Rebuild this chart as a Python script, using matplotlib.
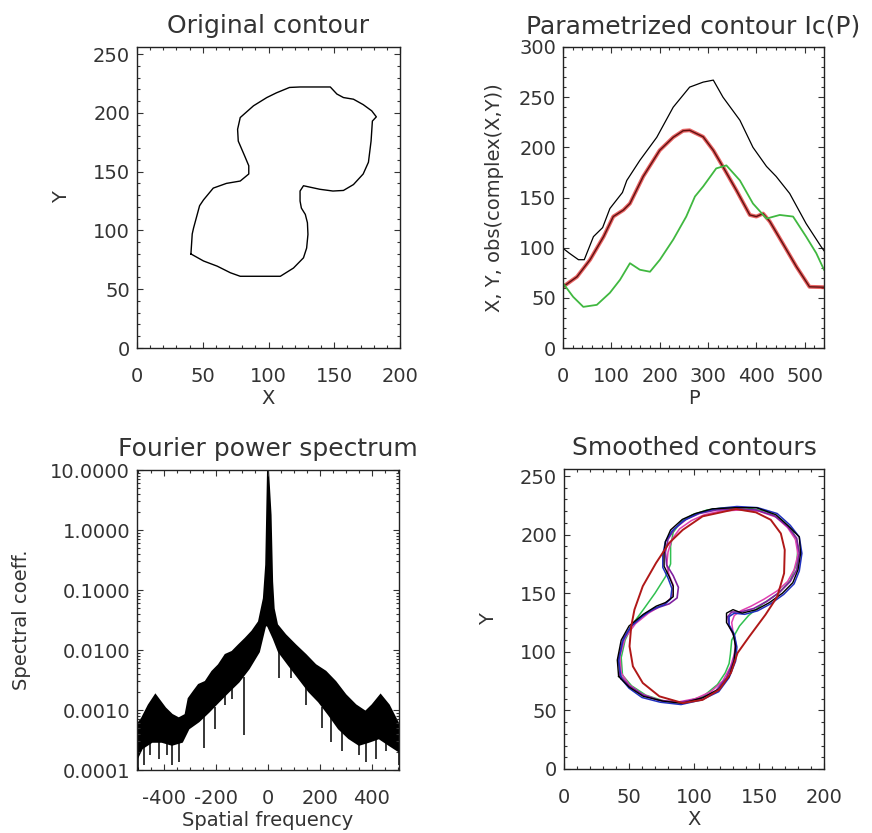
import numpy as np
import matplotlib
matplotlib.use("Agg")
import matplotlib.pyplot as plt
from matplotlib.ticker import MultipleLocator, FixedLocator, FixedFormatter, LogLocator, NullFormatter

plt.rcParams['font.family'] = ['DejaVu Sans']
plt.rcParams['axes.unicode_minus'] = False

# ---------------- Panel 1: original contour ----------------
orig_x = [41, 42, 43, 47.6, 50.6, 58, 68, 78.5, 85, 85, 82, 77, 76.5, 78.5, 88.6, 98.7, 106, 116, 124, 147,
          152, 157, 164.6, 172, 178.5, 182, 179, 178, 176, 172, 164.6, 157, 149, 139, 126.6, 124, 124, 125,
          128, 129.6, 130, 129, 126.6, 119, 109, 98.7, 78.5, 71, 61, 50.6, 41]
orig_y = [80, 97, 102, 121, 126, 136, 140, 142, 148, 155, 163, 176, 186, 196, 206, 213, 217, 221.6, 222, 222,
          216, 213, 211.6, 207, 201.7, 196.6, 193, 176, 158, 148, 139, 134, 133.5, 135, 138, 133.5, 125, 119,
          113.6, 106.5, 96.6, 85, 76.7, 68, 61, 61, 61, 64, 69.6, 74, 80]

# ---------------- Panel 2: parametrized contour ----------------
p_abs = [1, 13, 32, 44, 63, 82, 97, 123, 132, 159, 194, 228, 262, 290, 311, 331, 366, 393, 421, 441, 469, 503, 534, 540]
v_abs = [99, 94.5, 88, 88, 111, 120, 139, 155, 167, 187, 210, 240, 260, 265, 267, 250, 227, 200, 181, 171, 154, 124, 101, 97]
p_y = [0, 29, 56, 84, 104, 125, 138.5, 166, 200, 228, 248.5, 262, 290, 311, 331, 359, 386.5, 400, 414, 428, 455, 483, 510, 540]
v_y = [61, 71, 88, 111, 131, 137.5, 144, 171, 197, 210, 216.5, 217, 210.5, 197, 180.6, 157, 132.6, 131, 134, 126, 104, 81, 61, 60.6]
p_x = [0, 21, 42, 70, 97, 118, 138.5, 159, 180, 200.5, 228, 255, 273, 290, 317, 338, 366, 393, 421, 448.5, 476, 503, 524, 540]
v_x = [64.6, 51, 41, 43, 55, 68, 84.5, 78, 76, 88, 108, 131, 151, 161, 179, 182, 167, 144, 129, 132.6, 131, 111, 94.5, 78]

# ---------------- Panel 3: Fourier power spectrum (log10 of coefficient) ----------------
f_up = [-505, -486, -460, -434, -415, -396, -370, -344, -318, -306, -286, -267, -241, -215, -190, -164, -138,
        -113, -87, -61, -35, -16, -7, 0, 10, 16, 22, 35, 67, 106, 145, 183, 222, 260, 299, 338, 376, 402, 434,
        466, 505]
log_up = [-3.25, -3.14, -2.92, -2.75, -2.86, -2.97, -3.08, -3.14, -3.08, -2.81, -2.69, -2.58, -2.53, -2.36,
          -2.25, -2.08, -2.03, -1.92, -1.81, -1.69, -1.53, -1.14, -0.58, 1.0, 0.25, -0.86, -1.31, -1.58, -1.75,
          -1.92, -2.08, -2.25, -2.36, -2.53, -2.75, -2.92, -3.03, -2.92, -2.75, -2.92, -3.25]
f_lo = [-505, -486, -447, -409, -370, -331, -306, -267, -228, -190, -151, -113, -74, -35, -10, 0, 22, 42, 80,
        119, 158, 196, 235, 273, 312, 351, 389, 428, 466, 505]
log_lo = [-3.81, -3.64, -3.53, -3.53, -3.58, -3.53, -3.31, -3.19, -3.03, -2.86, -2.69, -2.53, -2.31, -2.03,
          -1.58, -1.6, -1.81, -2.03, -2.25, -2.47, -2.69, -2.86, -3.08, -3.31, -3.47, -3.58, -3.53, -3.47,
          -3.58, -3.69]
spike_f = [-501, -479, -453, -421, -389, -370, -344, -248, -203, -164, -138, -93, 42, 87, 145, 209, 241, 286,
           351, 376, 415, 453, 505]
spike_lo = [-4.0, -3.92, -3.75, -3.81, -3.75, -3.92, -3.86, -3.64, -3.31, -2.92, -2.81, -3.42, -2.47, -2.47,
            -2.92, -3.3, -3.53, -3.69, -3.75, -3.86, -3.81, -3.69, -3.92]
spike_hi = [-3.6, -3.55, -3.5, -3.5, -3.5, -3.55, -3.5, -3.1, -2.95, -2.7, -2.6, -2.45, -2.0, -2.3, -2.6,
            -2.95, -3.1, -3.3, -3.55, -3.5, -3.45, -3.5, -3.65]

# ---------------- Panel 4: smoothed contours ----------------
black_x = [42, 41, 44, 50, 61, 71, 78, 84, 84, 81, 77, 77, 78, 82, 91, 101, 114, 132, 148, 163, 173, 181, 182,
           180, 176, 168, 158, 148, 137, 130, 125, 125, 130, 132, 131, 127, 119, 107, 91, 76, 61, 50, 42]
black_y = [79, 93, 110, 122, 132, 139, 142, 147, 156, 164, 173, 184, 194, 204, 213, 218, 222, 223, 223, 217, 207,
           198, 184, 170, 159, 150, 142, 136, 133, 136, 133, 125, 116, 105, 93, 79, 68, 61, 56, 58, 62, 70, 79]
blue_x = [44, 42, 45, 51, 60, 69, 77, 82, 83, 80, 76, 76, 78, 83, 92, 103, 116, 133, 149, 164, 174, 181, 183,
          181, 177, 169, 159, 149, 139, 131, 127, 127, 131, 133, 132, 127, 119, 106, 90, 74, 60, 50, 44]
blue_y = [77, 92, 109, 121, 130, 137, 140, 145, 154, 163, 172, 183, 194, 203, 212, 218, 222, 224, 223, 218, 208,
          198, 184, 169, 158, 149, 141, 135, 132, 133, 130, 123, 115, 104, 92, 78, 66, 59, 55, 57, 61, 69, 77]
purple_x = [43, 42, 46, 53, 63, 73, 81, 87, 88, 84, 79, 78, 80, 85, 94, 104, 117, 133, 148, 162, 172, 179, 181,
            179, 174, 166, 156, 146, 136, 129, 126, 127, 131, 132, 130, 125, 117, 105, 90, 75, 61, 50, 43]
purple_y = [80, 95, 112, 124, 133, 138, 141, 146, 155, 165, 174, 185, 196, 205, 213, 218, 221, 222, 221, 216,
            207, 197, 184, 170, 160, 151, 143, 137, 134, 134, 130, 122, 113, 103, 91, 78, 67, 60, 57, 58, 63, 71, 80]
mag_x = [44, 43, 47, 55, 65, 74, 80, 84, 84, 81, 79, 80, 83, 89, 98, 108, 120, 135, 150, 163, 172, 178, 180,
         177, 172, 164, 154, 144, 136, 131, 129, 130, 132, 131, 128, 122, 113, 101, 87, 72, 60, 50, 44]
mag_y = [82, 96, 112, 124, 133, 139, 143, 149, 157, 165, 174, 185, 196, 205, 212, 217, 220, 221, 220, 215, 206,
         196, 183, 170, 160, 152, 145, 139, 135, 131, 125, 117, 108, 98, 87, 75, 66, 60, 57, 59, 64, 72, 82]
green_x = [45, 44, 47, 53, 61, 70, 78, 82, 82, 84, 90, 99, 110, 124, 140, 155, 167, 176, 180, 179, 174, 165,
           153, 142, 135, 129, 128, 127, 124, 118, 107, 92, 77, 63, 52, 45]
green_y = [80, 95, 110, 124, 136, 150, 164, 175, 190, 202, 211, 217, 221, 223, 223, 220, 213, 203, 190, 175,
           161, 150, 141, 131, 122, 110, 98, 90, 82, 72, 62, 57, 58, 63, 71, 80]
red_x = [132.2, 106.6, 91.3, 81, 70.8, 60.6, 54.2, 51.7, 50.4, 53, 60.6, 73.4, 91.3, 106.6, 119.4, 128.4, 133.5,
         142.5, 155, 164, 169.3, 169.8, 166.8, 159, 147.6, 132.2]
red_y = [221.8, 215.6, 204, 193, 175.8, 156, 136, 121.7, 104.7, 87.6, 73.4, 62, 56.3, 59, 67.7, 82, 99, 113,
         131.7, 147, 167, 187, 201, 212.7, 219, 221.8]

# ---------------- Figure ----------------
fig = plt.figure(figsize=(8.72, 8.33), dpi=100)
W, H = 872.0, 833.0
def axrect(x0, x1, y0, y1):
    return [x0 / W, 1 - y1 / H, (x1 - x0) / W, (y1 - y0) / H]

ax1 = fig.add_axes(axrect(137, 400, 47, 348))
ax2 = fig.add_axes(axrect(563, 824, 47, 348))
ax3 = fig.add_axes(axrect(137, 399, 470, 770))
ax4 = fig.add_axes(axrect(564, 824, 469, 769))

FS = 14
TFS = 18
TC = '#333333'

def style(ax):
    ax.tick_params(which='both', direction='in', top=True, right=True, labelsize=FS,
                   labelcolor=TC, width=0.8, color='#333333')
    ax.tick_params(which='major', length=4)
    ax.tick_params(which='minor', length=2)
    ax.tick_params(axis='x', which='major', pad=14)
    ax.tick_params(axis='y', which='major', pad=5)
    for s in ax.spines.values():
        s.set_linewidth(1.0)
        s.set_color('#222222')

# Panel 1
ax1.plot(orig_x, orig_y, color='black', lw=1.0)
ax1.set_xlim(0, 200)
ax1.set_ylim(0, 256)
ax1.xaxis.set_major_locator(MultipleLocator(50))
ax1.xaxis.set_minor_locator(MultipleLocator(10))
ax1.yaxis.set_major_locator(MultipleLocator(50))
ax1.yaxis.set_minor_locator(MultipleLocator(10))
ax1.set_title('Original contour', fontsize=TFS, color=TC, pad=10)
ax1.set_xlabel('X', fontsize=FS, color=TC, labelpad=2)
ax1.set_ylabel('Y', fontsize=FS, color=TC, labelpad=16)
style(ax1)

# Panel 2
ax2.plot(p_abs, v_abs, color='black', lw=0.9)
ax2.plot(p_y, v_y, color='#e03030', lw=2.8, alpha=0.75)
ax2.plot(p_y, v_y, color='#601010', lw=1.0)
ax2.plot(p_x, v_x, color='#40b840', lw=1.3)
ax2.set_xlim(0, 540)
ax2.set_ylim(0, 300)
ax2.xaxis.set_major_locator(MultipleLocator(100))
ax2.xaxis.set_minor_locator(MultipleLocator(20))
ax2.yaxis.set_major_locator(MultipleLocator(50))
ax2.yaxis.set_minor_locator(MultipleLocator(10))
ax2.set_title('Parametrized contour Ic(P)', fontsize=TFS, color=TC, pad=10)
ax2.set_xlabel('P', fontsize=FS, color=TC, labelpad=2)
ax2.set_ylabel('X, Y, obs(complex(X,Y))', fontsize=FS, color=TC, labelpad=11)
style(ax2)

# Panel 3
up = [10.0 ** v for v in log_up]
lo = [10.0 ** v for v in log_lo]
poly_x = list(f_up) + list(f_lo[::-1])
poly_y = up + lo[::-1]
ax3.fill(poly_x, poly_y, color='black', lw=1.4)
ax3.vlines(spike_f, [10.0 ** v for v in spike_lo], [10.0 ** v for v in spike_hi], color='black', lw=1.1)
ax3.set_yscale('log')
ax3.set_xlim(-505, 505)
ax3.set_ylim(1e-4, 10)
ax3.xaxis.set_major_locator(FixedLocator([-400, -200, 0, 200, 400]))
ax3.xaxis.set_major_formatter(FixedFormatter(['-400', '-200', '0', '200', '400']))
ax3.xaxis.set_minor_locator(MultipleLocator(50))
yt = [1e-4, 1e-3, 1e-2, 1e-1, 1, 10]
ax3.yaxis.set_major_locator(FixedLocator(yt))
ax3.yaxis.set_major_formatter(FixedFormatter(['%.4f' % v for v in yt]))
ax3.yaxis.set_minor_locator(LogLocator(base=10, subs=np.arange(2, 10)))
ax3.yaxis.set_minor_formatter(NullFormatter())
ax3.set_title('Fourier power spectrum', fontsize=TFS, color=TC, pad=10)
ax3.set_xlabel('Spatial frequency', fontsize=FS, color=TC, labelpad=2)
ax3.set_ylabel('Spectral coeff.', fontsize=FS, color=TC, labelpad=14)
style(ax3)

# Panel 4
ax4.plot(green_x, green_y, color='#30c050', lw=1.1)
ax4.plot(mag_x, mag_y, color='#e040b0', lw=1.1)
ax4.plot(purple_x, purple_y, color='#8020a0', lw=1.2)
ax4.plot(blue_x, blue_y, color='#2030c0', lw=1.1)
ax4.plot(black_x, black_y, color='black', lw=1.0)
ax4.plot(red_x, red_y, color='#b01818', lw=1.4)
ax4.set_xlim(0, 200)
ax4.set_ylim(0, 256)
ax4.xaxis.set_major_locator(MultipleLocator(50))
ax4.xaxis.set_minor_locator(MultipleLocator(10))
ax4.yaxis.set_major_locator(MultipleLocator(50))
ax4.yaxis.set_minor_locator(MultipleLocator(10))
ax4.set_title('Smoothed contours', fontsize=TFS, color=TC, pad=10)
ax4.set_xlabel('X', fontsize=FS, color=TC, labelpad=2)
ax4.set_ylabel('Y', fontsize=FS, color=TC, labelpad=16)
style(ax4)

fig.savefig('out.png', dpi=100)
